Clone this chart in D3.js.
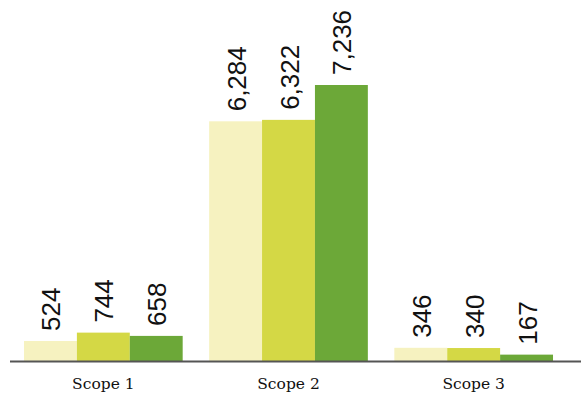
<!DOCTYPE html>
<html>
<head>
<meta charset="utf-8">
<script src="https://cdn.jsdelivr.net/npm/d3@7"></script>
<style>
  html, body { margin: 0; padding: 0; background: #ffffff; }
  svg { display: block; }
</style>
</head>
<body>
<svg id="chart" width="581" height="396"></svg>
<script>
// Emissions by scope, three series per group
const categories = ["Scope 1", "Scope 2", "Scope 3"];
const seriesNames = ["s1", "s2", "s3"];
const seriesA = [524, 6284, 346];
const seriesB = [744, 6322, 340];
const seriesC = [658, 7236, 167];
const seriesColors = ["#f6f2c0", "#d4d845", "#6ca838"];

const rows = categories.map((c, i) => ({
  category: c,
  values: [seriesA[i], seriesB[i], seriesC[i]]
}));

const width = 581, height = 396;
const baseline = 361;
const svg = d3.select("#chart");

const x0 = d3.scaleBand()
  .domain(categories)
  .range([10.75, 566.25])
  .paddingInner(0.143)
  .paddingOuter(0.0715);

const x1 = d3.scaleBand()
  .domain(seriesNames)
  .range([0, x0.bandwidth()]);

const y = d3.scaleLinear()
  .domain([0, 7236])
  .range([baseline, 85]);

const fmt = d3.format(",");

const groups = svg.append("g")
  .selectAll("g")
  .data(rows)
  .join("g")
  .attr("transform", d => `translate(${x0(d.category)},0)`);

groups.selectAll("rect")
  .data(d => d.values.map((v, j) => ({ key: seriesNames[j], value: v, color: seriesColors[j] })))
  .join("rect")
  .attr("x", d => x1(d.key))
  .attr("y", d => y(d.value))
  .attr("width", x1.bandwidth())
  .attr("height", d => baseline - y(d.value))
  .attr("fill", d => d.color);

groups.selectAll("text.value")
  .data(d => d.values.map((v, j) => ({ key: seriesNames[j], value: v })))
  .join("text")
  .attr("class", "value")
  .attr("transform", d => `translate(${x1(d.key) + x1.bandwidth() / 2 + 10},${y(d.value) - 10}) rotate(-90)`)
  .attr("text-anchor", "start")
  .attr("font-family", "'Liberation Sans', Arial, sans-serif")
  .attr("font-size", 26)
  .attr("fill", "#111")
  .text(d => fmt(d.value));

// baseline axis
const xAxis = d3.axisBottom(x0).tickSize(0).tickPadding(0);
const axisG = svg.append("g")
  .attr("transform", `translate(0,${baseline})`)
  .call(xAxis);
axisG.select(".domain").remove();
axisG.append("line")
  .attr("x1", 10).attr("x2", width)
  .attr("y1", 0.5).attr("y2", 0.5)
  .attr("stroke", "#555").attr("stroke-width", 2);
axisG.selectAll(".tick text")
  .attr("dy", 0)
  .attr("y", 28)
  .attr("font-family", "'DejaVu Serif', Georgia, serif")
  .attr("font-size", 15.5)
  .attr("fill", "#111");
</script>
</body>
</html>
